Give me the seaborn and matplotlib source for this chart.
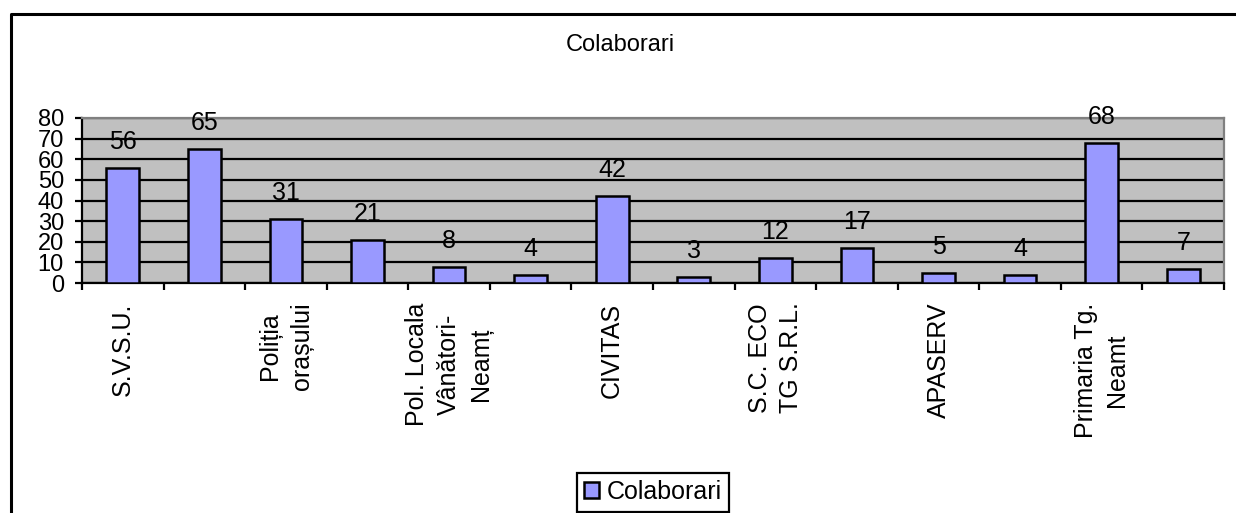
import matplotlib
matplotlib.use("Agg")
import matplotlib.pyplot as plt
import seaborn as sns
from matplotlib.lines import Line2D

sns.set_style("white")
plt.rcParams['font.family'] = ['Liberation Sans', 'DejaVu Sans']
plt.rcParams['text.color'] = 'black'
plt.rcParams['xtick.color'] = 'black'
plt.rcParams['ytick.color'] = 'black'
plt.rcParams['axes.labelcolor'] = 'black'

titlu = "Colaborari"
etichete = ["S.V.S.U.", "", "Poliția\norașului", "", "Pol. Locala\nVânători-\nNeamț", "",
            "CIVITAS", "", "S.C. ECO\nTG S.R.L.", "", "APASERV", "", "Primaria Tg.\nNeamt", ""]
colaborari = [56, 65, 31, 21, 8, 4, 42, 3, 12, 17, 5, 4, 68, 7]
pozitii = list(range(len(colaborari)))

W, H = 1236, 513
fig = plt.figure(figsize=(W / 100, H / 100), dpi=100)
ax = fig.add_axes([82 / W, 1 - 283 / H, (1224 - 82) / W, (283 - 118) / H])
ax.set_facecolor("#C0C0C0")

sns.barplot(x=pozitii, y=colaborari, color="#9999FF", edgecolor="black",
            linewidth=1.8, width=0.4, saturation=1, label=titlu, ax=ax, zorder=3)

ax.set_xlim(-0.5, len(colaborari) - 0.5)
ax.set_ylim(0, 80)
ax.set_yticks(range(0, 81, 10))
ax.yaxis.grid(True, color="black", linewidth=1.6, zorder=1)
ax.set_axisbelow(True)
ax.tick_params(axis="y", labelsize=17, length=5, width=1.6, pad=8, left=True,
               color="black", labelcolor="black")

# ticks between categories, labels centred on categories
ax.set_xticks([p - 0.5 for p in pozitii] + [len(colaborari) - 0.5])
ax.set_xticklabels([])
ax.set_xticks(pozitii, minor=True)
ax.set_xticklabels(etichete, minor=True, rotation=90, fontsize=18, color="black",
                   va="top", ha="center", multialignment="center", linespacing=1.4)
ax.tick_params(axis="x", which="major", length=5, width=1.6, bottom=True, color="black")
ax.tick_params(axis="x", which="minor", length=0, pad=14)

for s in ["left", "bottom"]:
    ax.spines[s].set_color("black")
    ax.spines[s].set_linewidth(1.6)
for s in ["top", "right"]:
    ax.spines[s].set_color("#808080")
    ax.spines[s].set_linewidth(1.6)
ax.set_xlabel("")
ax.set_ylabel("")

ax.bar_label(ax.containers[0], labels=[str(v) for v in colaborari], padding=10,
             fontsize=18, color="black")

fig.text(620 / W, 1 - 45 / H, titlu, ha="center", va="center", fontsize=17, color="black")

handles, labels = ax.get_legend_handles_labels()
if ax.get_legend() is not None:
    ax.get_legend().remove()
leg = fig.legend(handles, labels, loc="center", bbox_to_anchor=(653 / W, 1 - 492 / H),
                 fontsize=18, frameon=True, fancybox=False, framealpha=1,
                 edgecolor="black", handlelength=0.6, handleheight=0.6,
                 handletextpad=0.3, borderpad=0.3, borderaxespad=0, labelcolor="black")
leg.get_frame().set_linewidth(1.6)

# outer chart border (left and top)
x0, y0 = 11 / W, 1 - 14 / H
fig.add_artist(Line2D([x0, x0, 1], [0, y0, y0], color="black", linewidth=2.2,
                      transform=fig.transFigure))

fig.savefig("out.png", dpi=100)
